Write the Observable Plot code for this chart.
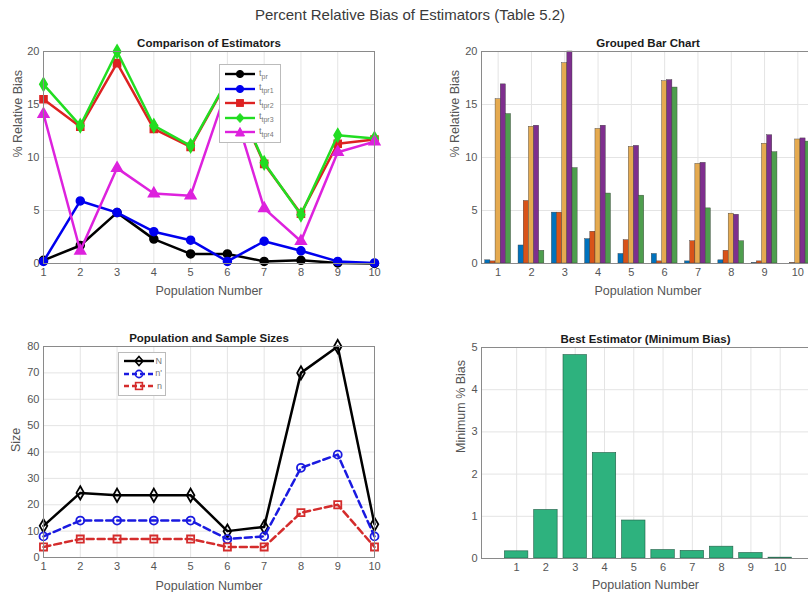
<!DOCTYPE html>
<html>
<head>
<meta charset="utf-8">
<script src="https://cdn.jsdelivr.net/npm/d3@7"></script>
<script src="https://cdn.jsdelivr.net/npm/@observablehq/plot@0.6"></script>
<style>
  html, body { margin: 0; padding: 0; background: #fff; overflow: hidden; }
  #root { position: relative; width: 808px; height: 592px; overflow: hidden; font-family: "Liberation Sans", Arial, sans-serif; }
  .panel { position: absolute; }
  .panel svg { max-width: none !important; }
  #maintitle { position: absolute; left: 0; top: 6px; width: 820px; text-align: center; font-size: 15px; color: #3a3a3a; }
  .leg { position: absolute; background: #fff; border: 1px solid #bbb; padding: 2px 3px; font-size: 9px; color: #777; line-height: 1; }
  .leg .row { display: flex; align-items: center; height: 14px; }
  .leg svg { display: block; margin-right: 2px; }
  .leg sub { font-size: 7px; }
</style>
</head>
<body>
<div id="root">
  <div id="maintitle">Percent Relative Bias of Estimators (Table 5.2)</div>
</div>
<script>
// ---------- DATA ----------
const populations = [1, 2, 3, 4, 5, 6, 7, 8, 9, 10];
const seriesNames = ["tpr", "tpr1", "tpr2", "tpr3", "tpr4"];
const tPR  = [0.3, 1.7, 4.8, 2.3, 0.9, 0.9, 0.2, 0.3, 0.05, 0.0];
const tPR1 = [0.2, 5.9, 4.8, 3.0, 2.2, 0.2, 2.1, 1.2, 0.2, 0.05];
const tPR2 = [15.5, 12.9, 18.9, 12.7, 11.0, 17.2, 9.4, 4.7, 11.3, 11.7];
const tPR3 = [16.9, 13.0, 20.0, 13.0, 11.1, 17.3, 9.5, 4.6, 12.1, 11.8];
const tPR4 = [14.1, 1.2, 9.0, 6.6, 6.4, 16.6, 5.2, 2.1, 10.5, 11.5];
const sizeN      = [12, 24.5, 23.6, 23.6, 23.6, 10, 11.6, 70, 80, 12.6];
const sizeNprime = [8, 14, 14, 14, 14, 7, 8, 34, 39, 8];
const sizeNsmall = [4, 7, 7, 7, 7, 4, 4, 17, 20, 4];
const minBias = [0.17, 1.15, 4.82, 2.5, 0.9, 0.2, 0.18, 0.28, 0.13, 0.02];
const biasTicks = [0, 5, 10, 15, 20];
const sizeTicks = [0, 10, 20, 30, 40, 50, 60, 70, 80];
const minTicks = [0, 1, 2, 3, 4, 5];

// ---------- STYLE ----------
const lineColors = ["#000000", "#0000ee", "#dd2222", "#22dd22", "#dd22dd"];
const lineSymbols = ["circle", "circle", "square", "diamond", "triangle"];
const barColors = ["#0072BD", "#D95319", "#E5AA50", "#7E2F8E", "#4E9E4E"];
const legendLabels = ["t<sub>pr</sub>", "t<sub>tpr1</sub>", "t<sub>tpr2</sub>", "t<sub>tpr3</sub>", "t<sub>tpr4</sub>"];

const allSeries = [tPR, tPR1, tPR2, tPR3, tPR4];
const rows = [];
allSeries.forEach((vals, k) => vals.forEach((v, i) => rows.push({pop: populations[i], k, series: seriesNames[k], value: v})));

const root = document.getElementById("root");
const baseStyle = {fontFamily: "'Liberation Sans', Arial, sans-serif", fontSize: "11px", color: "#555", background: "transparent", overflow: "visible", maxWidth: "none"};

function frameMarks(xTicks, yTicks, title, xLabel, yLabel, yLabelDx, xLabelDy) {
  return [
    Plot.gridX(xTicks, {stroke: "#e4e4e4", strokeOpacity: 1}),
    Plot.gridY(yTicks, {stroke: "#e4e4e4", strokeOpacity: 1}),
    Plot.axisX(xTicks, {tickSize: 0, tickPadding: 5, label: null}),
    Plot.axisY(yTicks, {tickSize: 0, tickPadding: 4, label: null}),
    Plot.text([title], {text: d => d, frameAnchor: "top", lineAnchor: "middle", dy: -8, fill: "#1a1a1a", fontWeight: "bold", fontSize: 11.5}),
    Plot.text([xLabel], {text: d => d, frameAnchor: "bottom", lineAnchor: "middle", dy: xLabelDy, fill: "#555", fontSize: 12.5}),
    Plot.text([yLabel], {text: d => d, frameAnchor: "left", dx: yLabelDx, rotate: -90, fill: "#555", fontSize: 12.5})
  ];
}

function place(el, left, top) {
  const d = document.createElement("div");
  d.className = "panel";
  d.style.left = left + "px";
  d.style.top = top + "px";
  d.appendChild(el);
  root.appendChild(d);
}

function markerSvg(sym, color, filled) {
  const f = filled ? color : "none";
  const sw = filled ? 1 : 1.6;
  if (sym === "circle") return `<circle cx="17" cy="6" r="3.6" fill="${f}" stroke="${color}" stroke-width="${sw}"/>`;
  if (sym === "square") return `<rect x="13.6" y="2.6" width="6.8" height="6.8" fill="${f}" stroke="${color}" stroke-width="${sw}"/>`;
  if (sym === "diamond") return `<polygon points="17,1.5 21,6 17,10.5 13,6" fill="${f}" stroke="${color}" stroke-width="${sw}"/>`;
  return `<polygon points="17,1.5 21.5,10 12.5,10" fill="${f}" stroke="${color}" stroke-width="${sw}"/>`;
}

function legend(items, left, top, width, rowH) {
  const d = document.createElement("div");
  d.className = "leg";
  d.style.left = left + "px";
  d.style.top = top + "px";
  d.style.width = width + "px";
  d.innerHTML = items.map(it => `<div class="row" style="height:${rowH}px"><svg width="34" height="12"><line x1="2" x2="32" y1="6" y2="6" stroke="${it.color}" stroke-width="2.4" ${it.dash ? `stroke-dasharray="${it.dash}"` : ""}/>${markerSvg(it.sym, it.color, it.filled)}</svg><span>${it.label}</span></div>`).join("");
  root.appendChild(d);
}

// ---------- Panel 1: Comparison of Estimators ----------
{
  const marks = [...frameMarks(populations, biasTicks, "Comparison of Estimators", "Population Number", "% Relative Bias", -26, 27)];
  seriesNames.forEach((s, k) => {
    const data = rows.filter(r => r.k === k);
    marks.push(Plot.line(data, {x: "pop", y: "value", stroke: lineColors[k], strokeWidth: 2.5}));
    marks.push(Plot.dot(data, {x: "pop", y: "value", fill: lineColors[k], stroke: lineColors[k], symbol: lineSymbols[k], r: 4}));
  });
  marks.push(Plot.frame({stroke: "#8a8a8a"}));
  const p = Plot.plot({
    width: 404, height: 282, marginLeft: 43, marginRight: 30, marginTop: 21, marginBottom: 49,
    x: {domain: [1, 10]}, y: {domain: [0, 20]},
    style: baseStyle, marks
  });
  place(p, 0, 30);
  legend(seriesNames.map((s, k) => ({color: lineColors[k], sym: lineSymbols[k], filled: true, label: legendLabels[k]})), 219, 64, 54, 14.5);
}

// ---------- Panel 2: Grouped Bar Chart ----------
{
  const step = 0.155;
  const marks = [...frameMarks(populations, biasTicks, "Grouped Bar Chart", "Population Number", "% Relative Bias", -27, 27)];
  marks.push(Plot.rectY(rows, {
    x1: d => d.pop + (d.k - 2.5) * step,
    x2: d => d.pop + (d.k - 1.5) * step,
    y: "value",
    fill: d => barColors[d.k],
    stroke: "#3a3a3a", strokeWidth: 0.4, inset: 0
  }));
  marks.push(Plot.frame({stroke: "#8a8a8a"}));
  const p = Plot.plot({
    width: 430, height: 282, marginLeft: 77, marginRight: 20, marginTop: 21, marginBottom: 49,
    x: {domain: [0.5, 10.5]}, y: {domain: [0, 20]},
    style: baseStyle, marks
  });
  place(p, 404, 30);
}

// ---------- Panel 3: Population and Sample Sizes ----------
{
  const sizeSeries = [
    {vals: sizeN, color: "#000000", sym: "diamond", dash: null, label: "N"},
    {vals: sizeNprime, color: "#1a1ae0", sym: "circle", dash: "7,4", label: "n'"},
    {vals: sizeNsmall, color: "#d42c2c", sym: "square", dash: "7,4", label: "n"}
  ];
  const marks = [...frameMarks(populations, sizeTicks, "Population and Sample Sizes", "Population Number", "Size", -28, 28)];
  sizeSeries.forEach(s => {
    const data = s.vals.map((v, i) => ({pop: populations[i], value: v}));
    marks.push(Plot.line(data, {x: "pop", y: "value", stroke: s.color, strokeWidth: 2.5, strokeDasharray: s.dash || undefined}));
    marks.push(Plot.dot(data, {x: "pop", y: "value", stroke: s.color, fill: "none", symbol: s.sym, r: 4, strokeWidth: 1.8}));
  });
  marks.push(Plot.frame({stroke: "#8a8a8a"}));
  const p = Plot.plot({
    width: 404, height: 272, marginLeft: 43, marginRight: 30, marginTop: 26, marginBottom: 35,
    x: {domain: [1, 10]}, y: {domain: [0, 80]},
    style: baseStyle, marks
  });
  place(p, 0, 320);
  legend(sizeSeries.map(s => ({color: s.color, sym: s.sym, filled: false, dash: s.dash ? "5,3" : null, label: s.label})), 118, 352, 40, 12.5);
}

// ---------- Panel 4: Best Estimator ----------
{
  const data = minBias.map((v, i) => ({pop: populations[i], value: v}));
  const marks = [...frameMarks(populations, minTicks, "Best Estimator (Minimum Bias)", "Population Number", "Minimum % Bias", -21, 26)];
  marks.push(Plot.rectY(data, {x1: d => d.pop - 0.4, x2: d => d.pop + 0.4, y: "value", fill: "#2EB27E", stroke: "#1f5c44", strokeWidth: 0.6}));
  marks.push(Plot.frame({stroke: "#8a8a8a"}));
  const p = Plot.plot({
    width: 415, height: 272, marginLeft: 77, marginRight: 10, marginTop: 27, marginBottom: 34,
    x: {domain: [-0.2, 11]}, y: {domain: [0, 5]},
    style: baseStyle, marks
  });
  place(p, 404, 320);
}
</script>
</body>
</html>
